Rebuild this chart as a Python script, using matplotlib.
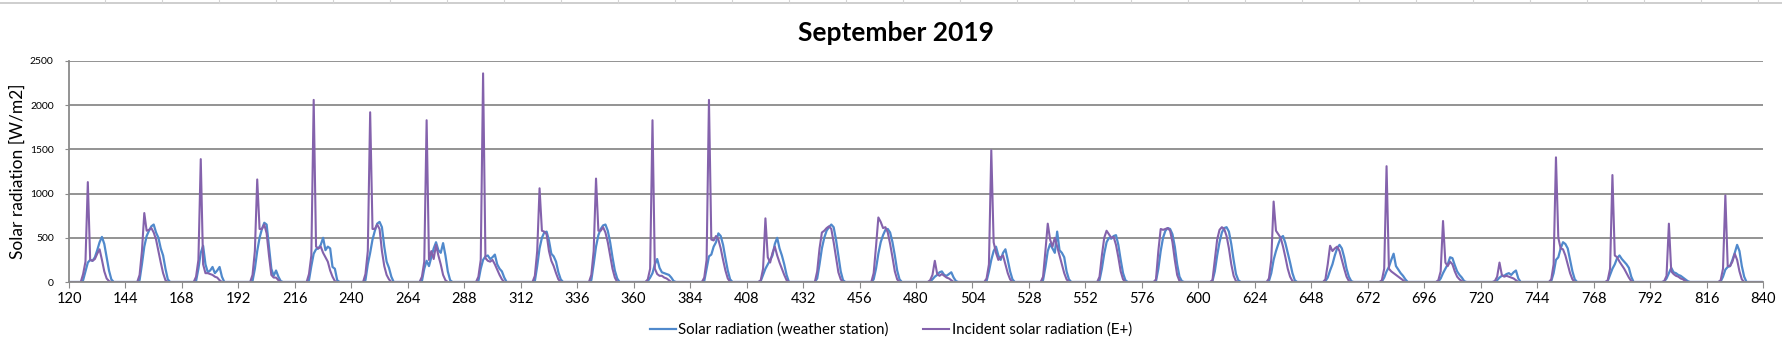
import numpy as np
import matplotlib
matplotlib.use("Agg")
import matplotlib.pyplot as plt
from matplotlib.lines import Line2D

# hourly values for each day of the month, hours 5..19 of the day (night = 0)
first_hour = 120
last_hour = 840
day_hours = list(range(5, 20))

eplus_day = [
    [0, 90, 230, 1130, 250, 240, 260, 320, 370, 250, 120, 40, 10, 0, 0],
    [0, 80, 350, 780, 580, 590, 610, 560, 480, 350, 220, 100, 20, 0, 0],
    [0, 60, 250, 1390, 200, 100, 100, 90, 80, 60, 50, 20, 0, 0, 0],
    [0, 80, 350, 1160, 600, 600, 650, 550, 300, 80, 50, 50, 20, 0, 0],
    [0, 90, 300, 2060, 400, 380, 400, 330, 280, 230, 130, 60, 10, 0, 0],
    [0, 90, 350, 1920, 600, 600, 650, 600, 350, 180, 80, 30, 0, 0, 0],
    [0, 60, 230, 1830, 250, 350, 260, 420, 300, 200, 80, 20, 0, 0, 0],
    [0, 60, 250, 2360, 270, 240, 230, 250, 200, 140, 80, 30, 0, 0, 0],
    [0, 70, 350, 1060, 580, 570, 540, 350, 240, 180, 100, 30, 0, 0, 0],
    [0, 80, 350, 1170, 580, 580, 620, 560, 450, 300, 150, 50, 0, 0, 0],
    [0, 30, 150, 1830, 150, 90, 70, 70, 50, 40, 20, 0, 0, 0, 0],
    [0, 50, 250, 2060, 480, 470, 520, 480, 380, 250, 130, 40, 0, 0, 0],
    [0, 20, 150, 720, 280, 220, 330, 400, 300, 220, 150, 80, 20, 0, 0],
    [0, 120, 380, 560, 580, 610, 630, 600, 450, 280, 110, 30, 0, 0, 0],
    [0, 100, 400, 730, 680, 610, 620, 560, 430, 280, 120, 30, 0, 0, 0],
    [0, 20, 80, 240, 90, 70, 90, 70, 50, 40, 20, 0, 0, 0, 0],
    [0, 40, 200, 1490, 450, 330, 250, 280, 300, 200, 100, 30, 0, 0, 0],
    [0, 60, 350, 660, 480, 400, 500, 400, 300, 200, 100, 30, 0, 0, 0],
    [0, 60, 300, 500, 580, 540, 500, 510, 420, 280, 120, 30, 0, 0, 0],
    [0, 30, 350, 600, 590, 600, 610, 580, 450, 250, 80, 10, 0, 0, 0],
    [0, 20, 250, 480, 590, 620, 600, 520, 380, 200, 70, 10, 0, 0, 0],
    [0, 40, 250, 910, 580, 540, 500, 400, 280, 150, 60, 10, 0, 0, 0],
    [0, 30, 200, 410, 350, 380, 400, 350, 250, 150, 60, 10, 0, 0, 0],
    [0, 20, 150, 1310, 150, 120, 100, 80, 60, 40, 20, 0, 0, 0, 0],
    [0, 20, 120, 690, 220, 180, 230, 200, 120, 60, 30, 10, 0, 0, 0],
    [0, 10, 60, 220, 80, 60, 70, 60, 50, 40, 20, 0, 0, 0, 0],
    [0, 30, 200, 1410, 500, 380, 370, 300, 200, 100, 30, 0, 0, 0, 0],
    [0, 20, 150, 1210, 300, 280, 230, 190, 150, 100, 50, 10, 0, 0, 0],
    [0, 10, 70, 660, 120, 90, 70, 60, 40, 30, 10, 0, 0, 0, 0],
    [0, 20, 150, 980, 180, 180, 230, 320, 250, 120, 30, 0, 0, 0, 0],
]

station_day = [
    [0, 20, 120, 220, 250, 240, 280, 360, 450, 510, 430, 280, 130, 30, 0],
    [0, 20, 200, 400, 520, 580, 630, 650, 560, 500, 380, 300, 150, 30, 0],
    [0, 10, 150, 330, 410, 200, 110, 130, 170, 100, 130, 170, 60, 0, 0],
    [0, 10, 150, 350, 500, 600, 670, 650, 400, 150, 70, 130, 60, 10, 0],
    [0, 20, 180, 320, 370, 380, 420, 500, 360, 400, 380, 170, 150, 20, 0],
    [0, 20, 200, 330, 480, 580, 660, 680, 620, 400, 230, 160, 60, 0, 0],
    [0, 10, 150, 240, 180, 280, 380, 450, 360, 330, 440, 300, 120, 20, 0],
    [0, 10, 150, 250, 290, 300, 260, 280, 310, 200, 150, 120, 50, 0, 0],
    [0, 10, 180, 380, 500, 560, 570, 470, 320, 290, 230, 110, 30, 0, 0],
    [0, 20, 200, 400, 530, 600, 640, 650, 580, 450, 280, 130, 40, 0, 0],
    [0, 10, 50, 100, 200, 260, 160, 110, 100, 90, 80, 50, 10, 0, 0],
    [0, 10, 150, 290, 310, 400, 450, 550, 520, 420, 270, 130, 30, 0, 0],
    [0, 10, 80, 150, 200, 250, 300, 430, 500, 380, 300, 200, 80, 0, 0],
    [0, 40, 200, 380, 500, 580, 620, 650, 620, 480, 300, 120, 20, 0, 0],
    [0, 30, 150, 320, 450, 530, 590, 600, 560, 450, 300, 130, 30, 0, 0],
    [0, 5, 30, 60, 80, 110, 120, 80, 70, 90, 110, 50, 10, 0, 0],
    [0, 10, 120, 250, 350, 400, 300, 250, 330, 370, 250, 120, 30, 0, 0],
    [0, 20, 170, 350, 430, 380, 330, 570, 360, 330, 280, 120, 30, 0, 0],
    [0, 20, 150, 320, 450, 500, 490, 520, 530, 420, 250, 100, 20, 0, 0],
    [0, 10, 150, 350, 500, 580, 610, 600, 540, 400, 200, 60, 10, 0, 0],
    [0, 10, 120, 300, 450, 560, 610, 620, 570, 430, 250, 90, 20, 0, 0],
    [0, 10, 100, 250, 350, 430, 500, 520, 440, 330, 220, 100, 20, 0, 0],
    [0, 10, 50, 130, 200, 300, 380, 420, 380, 280, 150, 60, 10, 0, 0],
    [0, 5, 50, 120, 170, 250, 320, 180, 140, 100, 70, 30, 0, 0, 0],
    [0, 5, 40, 100, 150, 200, 280, 270, 190, 120, 80, 50, 10, 0, 0],
    [0, 5, 20, 50, 70, 70, 90, 100, 80, 110, 130, 40, 0, 0, 0],
    [0, 10, 100, 250, 280, 380, 450, 430, 380, 250, 120, 30, 0, 0, 0],
    [0, 10, 80, 150, 200, 270, 300, 260, 230, 200, 160, 60, 0, 0, 0],
    [0, 5, 40, 100, 160, 110, 100, 80, 70, 50, 30, 10, 0, 0, 0],
    [0, 5, 60, 140, 170, 180, 250, 330, 420, 350, 180, 60, 0, 0, 0],
]

hours = np.arange(first_hour, last_hour + 1)
station = np.zeros(len(hours))
eplus = np.zeros(len(hours))
for d in range(len(eplus_day)):
    i0 = 24 * d + day_hours[0]
    station[i0:i0 + len(day_hours)] = station_day[d]
    eplus[i0:i0 + len(day_hours)] = eplus_day[d]

plt.rcParams['font.family'] = ['Lato', 'DejaVu Sans']

fig = plt.figure(figsize=(17.82, 3.47), dpi=100)
ax = fig.add_axes([69 / 1782, 65 / 347, (1763 - 69) / 1782, (282 - 61) / 347])

blue = '#5089cc'
purple = '#8462ac'
ax.plot(hours, station, color=blue, lw=1.6, label='Solar radiation (weather station)')
ax.plot(hours, eplus, color=purple, lw=1.5, label='Incident solar radiation (E+)')

ax.set_xlim(first_hour, last_hour)
ax.set_ylim(0, 2500)
ax.set_xticks(np.arange(first_hour, last_hour + 1, 24))
ax.set_yticks(np.arange(0, 2501, 500))
ax.yaxis.grid(True, color='#8a8a8a', lw=1.3)
ax.set_axisbelow(True)
for s in ['top', 'right']:
    ax.spines[s].set_visible(False)
for s in ['left', 'bottom']:
    ax.spines[s].set_color('#8a8a8a')
    ax.spines[s].set_linewidth(1.3)
ax.tick_params(axis='x', length=4, color='#8a8a8a', labelsize=10.5, pad=3)
ax.tick_params(axis='y', length=3, color='#8a8a8a', labelsize=7.5, pad=8)
ax.set_ylabel('Solar radiation [W/m2]', fontsize=12.5, labelpad=3)

fig.text(0.503, 0.905, 'September 2019', ha='center', va='center',
         fontsize=19, fontweight='bold')

fig.legend(loc='center', bbox_to_anchor=(0.5, 0.05), ncol=2, frameon=False,
           fontsize=10.8, handlelength=1.7, handletextpad=0.2, columnspacing=2.3)

# spreadsheet cell borders visible above the chart
fig.add_artist(Line2D([0, 1], [1 - 2.7 / 347] * 2, transform=fig.transFigure,
                      color='#c6c6c6', lw=1.2))
for k in range(30):
    x = (105.3 + 57 * k) / 1782
    fig.add_artist(Line2D([x, x], [1 - 2.7 / 347, 1], transform=fig.transFigure,
                          color='#d4d4d4', lw=0.8))

plt.savefig('out.png', dpi=100)
